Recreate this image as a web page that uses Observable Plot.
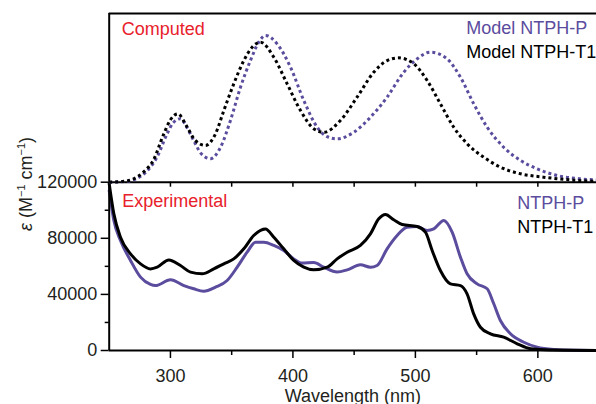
<!DOCTYPE html>
<html><head><meta charset="utf-8">
<script src="https://cdn.jsdelivr.net/npm/d3@7"></script>
<script src="https://cdn.jsdelivr.net/npm/@observablehq/plot@0.6"></script>
<style>
body{margin:0;background:#fff;}
#chart{position:relative;width:596px;height:404px;background:#fff;overflow:hidden;}
#chart svg{position:absolute;left:0;top:0;}
</style></head><body><div id="chart"></div>
<script>
// ---- Computed spectra (normalized, arbitrary units) ----
const wlCompP  = [250,265,272,280,289,297.3,302,308.2,313,319,325,332.7,340.9,349,357.2,365.3,372.1,377.6,387.1,398,408.9,419.8,428,436.1,449.7,463.3,476.9,490.5,501.4,512.3,525.9,536.8,547.6,558.6,572.1,585.8,599.4,615.7,634.7,650];
const absCompP = [0,0.005,0.02,0.06,0.148,0.287,0.35,0.376,0.33,0.247,0.17,0.139,0.207,0.366,0.563,0.721,0.83,0.87,0.82,0.682,0.484,0.326,0.27,0.257,0.296,0.385,0.504,0.652,0.731,0.771,0.731,0.622,0.465,0.326,0.207,0.129,0.079,0.04,0.02,0.012];
const wlCompT1  = [250,262,270,278,286,294.6,300,306,313.7,320,328.6,336.8,343.6,351.7,359.9,366.7,373.5,384.4,395.3,406.2,417,425.2,438.8,452.4,466,476.9,486.4,498.7,509.6,520.4,531.3,542.2,555.8,569.4,585.8,604.5,629,650];
const absCompT1 = [0,0.005,0.02,0.06,0.13,0.287,0.37,0.405,0.326,0.25,0.218,0.287,0.425,0.583,0.721,0.8,0.83,0.741,0.583,0.425,0.317,0.296,0.366,0.504,0.652,0.721,0.737,0.702,0.603,0.465,0.326,0.228,0.148,0.089,0.05,0.03,0.012,0.005];

// ---- Experimental spectra (epsilon, M^-1 cm^-1) ----
const wlExpP  = [250,253.8,259.2,267.4,275.6,283.7,287.8,300,311,319,327.2,336.8,346.3,354.5,362.6,369.5,376.3,384.4,392.5,400.7,407.5,417,425.2,436.1,444.3,455.1,463.3,468.7,476.9,485.1,493.2,501.4,509.6,515,523.2,530,536.8,542.2,550.4,558.6,564,569.4,577.6,588.5,599.4,613,630,650];
const epsExpP = [114000,92700,78400,64200,52300,47100,46300,50400,46300,44000,42300,45200,49900,59400,70100,77200,77200,74900,71300,65300,62300,62700,59400,55900,57500,61100,59400,60600,72500,82000,87900,88400,85600,86700,92700,84400,66500,54700,47500,44000,33300,21400,11900,5900,2400,700,100,0];
const wlExpT1  = [250,253.8,259.2,267.4,275.6,283.7,289.2,298.7,308.2,316.4,325.9,335.4,343.6,351.7,359.9,368,377.6,384.4,392.5,400.7,408.9,417,428,436.1,444.3,455.1,463.3,470.1,475.6,482.3,489.2,501.4,508.2,513.7,520.4,528.6,536.8,542.2,547.6,553.1,561.3,572.1,583.1,594,610,650];
const epsExpT1 = [119000,97500,80800,68900,61800,58200,59400,64600,60600,55900,54700,58200,61800,65300,72500,82000,86700,80800,72500,64200,59400,57500,59400,65300,70100,74900,83200,93900,97000,93200,89800,88400,84400,71300,57000,47500,46300,40400,26100,16600,11900,9500,4800,1200,300,0];

// ---- Axes / labels ----
const xTicksMajor = [300,400,500,600];
const xTicksMinor = [350,450,550];
const xTicksMid   = [300,350,400,450,500,550,600];
const yTicksMajor = [0,40000,80000,120000];
const yTicksMinor = [20000,60000,100000];
const xLabel = "Wavelength (nm)";
const yLabel = "ε (M⁻¹ cm⁻¹)";
const panelTop = "Computed", panelBottom = "Experimental";
const legendTop = ["Model NTPH-P","Model NTPH-T1"];
const legendBottom = ["NTPH-P","NTPH-T1"];

const purple = "#5b4c9e", black = "#000", red = "#e8212b", ink = "#231f20";
const font = "'Liberation Sans', Arial, Helvetica, sans-serif";
const W = 596, H = 404;
const xDomain = [250,650], xRange = [108.7,598.6];
const rows = (xs, ys) => xs.map((x,i) => ({x, y: ys[i]}));
const baseStyle = {fontFamily: font, fontSize: "18px", background: "transparent", overflow: "visible", color: ink};

const bottom = Plot.plot({
  width: W, height: H,
  marginLeft: 108.7, marginRight: 0, marginTop: 181.7, marginBottom: 54,
  style: baseStyle,
  x: {domain: xDomain, range: xRange},
  y: {domain: [0,120000]},
  marks: [
    Plot.line(rows(wlExpP, epsExpP), {x:"x", y:"y", stroke: purple, strokeWidth: 3, curve: "monotone-x"}),
    Plot.line(rows(wlExpT1, epsExpT1), {x:"x", y:"y", stroke: black, strokeWidth: 3, curve: "monotone-x"}),
    Plot.ruleY([0], {stroke: black, strokeWidth: 2}),
    Plot.ruleY([120000], {stroke: black, strokeWidth: 2}),
    Plot.ruleX([250], {stroke: black, strokeWidth: 2}),
    Plot.axisY({ticks: yTicksMajor, tickSize: 8, tickPadding: 4, tickFormat: d3.format("d"), label: null, stroke: black, strokeWidth: 1.5, fill: ink}),
    Plot.axisY({ticks: yTicksMinor, tickSize: 4, tickFormat: () => "", label: null, stroke: black, strokeWidth: 1.5}),
    Plot.axisX({ticks: xTicksMajor, tickSize: 8, tickPadding: 11, label: null, stroke: black, strokeWidth: 1.5, fill: ink}),
    Plot.axisX({ticks: xTicksMinor, tickSize: 5, tickFormat: () => "", label: null, stroke: black, strokeWidth: 1.5}),
    Plot.text([xLabel], {text: d => d, frameAnchor: "bottom", dy: 51, lineAnchor: "bottom", fill: ink, fontSize: 18}),
    Plot.text([yLabel], {text: d => d, frameAnchor: "left", rotate: -90, dx: -82.5, dy: -82.4, textAnchor: "middle", lineAnchor: "middle", fill: ink, fontSize: 18}),
    Plot.text([panelBottom], {text: d => d, frameAnchor: "top-left", dx: 13, dy: 24.5, lineAnchor: "bottom", textAnchor: "start", fill: red, fontSize: 18}),
    Plot.text([legendBottom[0]], {text: d => d, frameAnchor: "top-left", dx: 408, dy: 27, lineAnchor: "bottom", textAnchor: "start", fill: purple, fontSize: 18}),
    Plot.text([legendBottom[1]], {text: d => d, frameAnchor: "top-left", dx: 408, dy: 50.5, lineAnchor: "bottom", textAnchor: "start", fill: black, fontSize: 18})
  ]
});

const topPlot = Plot.plot({
  width: W, height: H,
  marginLeft: 108.7, marginRight: 0, marginTop: 13, marginBottom: 222.3,
  style: baseStyle,
  x: {domain: xDomain, range: xRange},
  y: {domain: [0,1], axis: null},
  marks: [
    Plot.line(rows(wlCompP, absCompP), {x:"x", y:"y", stroke: purple, strokeWidth: 3, strokeDasharray: "3,3", strokeLinecap: "butt", curve: "monotone-x"}),
    Plot.line(rows(wlCompT1, absCompT1), {x:"x", y:"y", stroke: black, strokeWidth: 3, strokeDasharray: "3,3", strokeLinecap: "butt", curve: "monotone-x"}),
    Plot.ruleY([1], {stroke: black, strokeWidth: 2}),
    Plot.ruleX([250], {stroke: black, strokeWidth: 2}),
    Plot.axisX({ticks: xTicksMid, tickSize: 5, tickFormat: () => "", label: null, stroke: black, strokeWidth: 1.5}),
    Plot.text([panelTop], {text: d => d, frameAnchor: "top-left", dx: 12.5, dy: 21, lineAnchor: "bottom", textAnchor: "start", fill: red, fontSize: 18}),
    Plot.text([legendTop[0]], {text: d => d, frameAnchor: "top-left", dx: 357, dy: 20.5, lineAnchor: "bottom", textAnchor: "start", fill: purple, fontSize: 18}),
    Plot.text([legendTop[1]], {text: d => d, frameAnchor: "top-left", dx: 357, dy: 44, lineAnchor: "bottom", textAnchor: "start", fill: black, fontSize: 18})
  ]
});

// italic epsilon and superscripts in the y label
d3.select(bottom).selectAll("text").filter(function(){ return this.textContent === yLabel; }).each(function(){
  const t = d3.select(this);
  t.text(null);
  t.append("tspan").attr("font-style","italic").text("ε");
  t.append("tspan").text(" (M");
  t.append("tspan").attr("font-size","11px").attr("dy","-7").text("−1");
  t.append("tspan").attr("dy","7").text(" cm");
  t.append("tspan").attr("font-size","11px").attr("dy","-7").text("−1");
  t.append("tspan").attr("dy","7").text(")");
});

const chart = document.getElementById("chart");
chart.appendChild(bottom);
chart.appendChild(topPlot);
</script></body></html>
